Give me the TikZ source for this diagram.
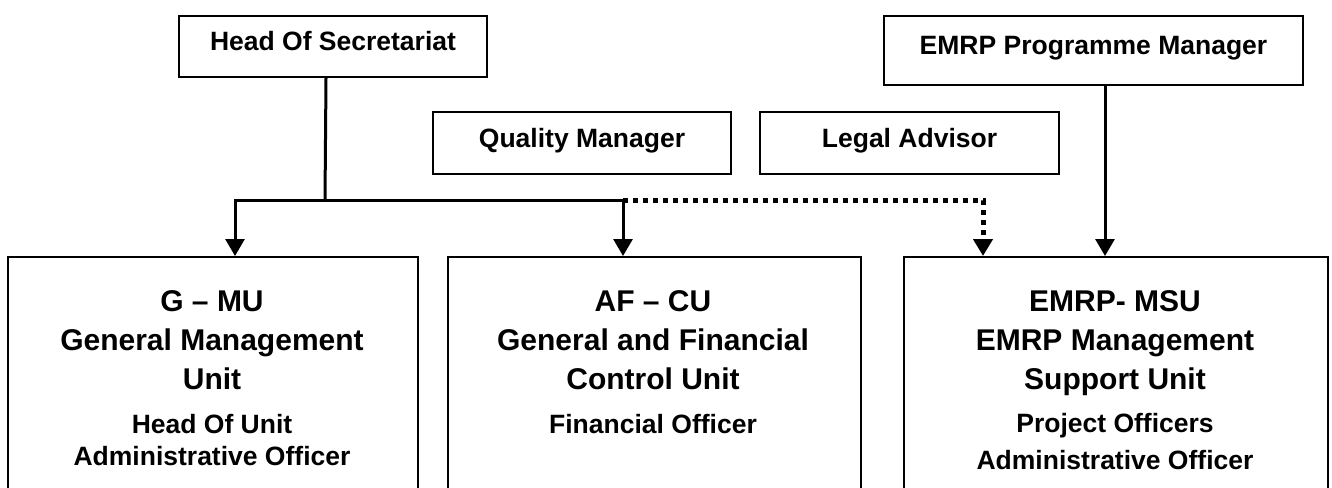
\documentclass[tikz,border=0pt]{standalone}
\usepackage{fontspec}
\setmainfont{Liberation Sans}
\usetikzlibrary{arrows.meta}
\begin{document}
\begin{tikzpicture}[x=1pt,y=-1pt,
  topbox/.style={draw, line width=2pt, rectangle, inner sep=0pt, anchor=north west,
    font=\bfseries\fontsize{26.5}{30}\selectfont, text height=0.9em, text depth=0pt},
  unitbox/.style={draw, line width=2pt, rectangle, inner sep=0pt, anchor=north west},
  title/.style={anchor=base, inner sep=0pt, font=\bfseries\fontsize{30}{34}\selectfont},
  staff/.style={anchor=base, inner sep=0pt, font=\bfseries\fontsize{26.5}{30}\selectfont},
  conn/.style={line width=3pt},
  dotconn/.style={line width=5pt, dash pattern=on 5pt off 5pt},
  tip/.style={-{Triangle[width=19pt,length=17pt]}}
]
\useasboundingbox (0,0) rectangle (1332,487);
\clip (0,0) rectangle (1332,487);
\fill[white] (0,0) rectangle (1332,487);

% upper row
\node[topbox, minimum width=308pt, minimum height=61pt] (hos) at (178,15) {Head Of Secretariat};
\node[topbox, minimum width=419pt, minimum height=69pt] (pm) at (883,15) {EMRP Programme Manager};
\node[topbox, minimum width=298pt, minimum height=62pt] (qm) at (432,111) {Quality Manager};
\node[topbox, minimum width=299pt, minimum height=62pt] (la) at (759,111) {Legal Advisor};

% unit boxes (they run off the lower edge)
\node[unitbox, minimum width=410pt, minimum height=260pt] (gmu) at (7,256) {};
\node[unitbox, minimum width=413pt, minimum height=260pt] (afcu) at (447,256) {};
\node[unitbox, minimum width=424pt, minimum height=260pt] (msu) at (903,256) {};

% unit texts
\node[title] (gmu1) at (212,311) {G – MU};
\node[title] (gmu2) at (212,350) {General Management};
\node[title] (gmu3) at (212,389) {Unit};
\node[staff] (gmu4) at (212,433) {Head Of Unit};
\node[staff] (gmu5) at (212,465) {Administrative Officer};

\node[title] (afcu1) at (653,311) {AF – CU};
\node[title] (afcu2) at (653,350) {General and Financial};
\node[title] (afcu3) at (653,389) {Control Unit};
\node[staff] (afcu4) at (653,433) {Financial Officer};

\node[title] (msu1) at (1115,311) {EMRP- MSU};
\node[title] (msu2) at (1115,350) {EMRP Management};
\node[title] (msu3) at (1115,389) {Support Unit};
\node[staff] (msu4) at (1115,432) {Project Officers};
\node[staff] (msu5) at (1115,469) {Administrative Officer};

% connector points
\coordinate (hosout) at ([xshift=-7pt]hos.south);
\coordinate (split) at (325,200);
\coordinate (gmuin) at (235,256);
\coordinate (afcuin) at (623,256);
\coordinate (msudot) at (983,256);
\coordinate (pmout) at (1105,84);

% connectors
\draw[conn] (hosout) -- (split);
\draw[conn, tip] (split) -| (gmuin);
\draw[conn, tip] (split) -| (afcuin);
\draw[dotconn, tip] (afcuin |- split) -| (msudot);
\draw[conn, tip] (pmout) -- (pmout |- msu.north);
\end{tikzpicture}
\end{document}
